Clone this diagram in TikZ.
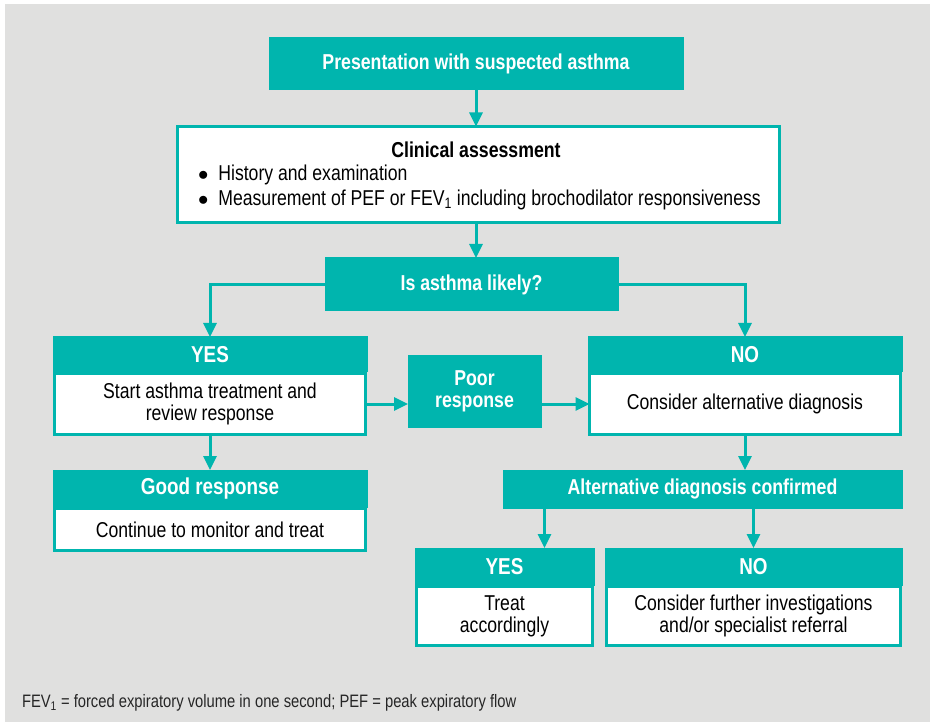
\documentclass[tikz,border=0pt]{standalone}
\usepackage{fontspec}
\setmainfont{Liberation Sans}[FakeStretch=0.82]
\usetikzlibrary{arrows.meta}
\definecolor{tealc}{HTML}{00B5AE}
\definecolor{bgc}{HTML}{E0E0DF}
\begin{document}
\begin{tikzpicture}[x=1pt,y=-1pt,
  every node/.style={inner sep=0pt, outer sep=0pt, align=center},
  headbox/.style={fill=tealc, draw=tealc, line width=0pt, text=white, font=\fontsize{21.6}{22}\selectfont\bfseries},
  bighead/.style={headbox, font=\fontsize{23}{24}\selectfont\bfseries},
  bodybox/.style={fill=white, draw=tealc, line width=3pt, text=black, font=\fontsize{21.5}{22}\selectfont},
  conn/.style={draw=tealc, line width=3pt, -{Triangle[width=13pt,length=14pt]}}
]
\useasboundingbox (0,0) rectangle (930,722);
\fill[bgc] (5,4) rectangle (930,722);

% title
\node[headbox, minimum width=414pt, minimum height=52pt] (title) at (476,64) {Presentation with suspected asthma};
% clinical assessment
\node[bodybox, minimum width=602pt, minimum height=96pt] (clin) at (478.5,174.5) {};
\node[font=\fontsize{21.6}{22}\selectfont\bfseries] (clint) at (476,150) {Clinical assessment};
\node[font=\fontsize{21.5}{22}\selectfont, anchor=west] (b1) at (198,175) {$\bullet$\hspace{10pt}History and examination};
\node[font=\fontsize{21.5}{22}\selectfont, anchor=west] (b2) at (198,200) {$\bullet$\hspace{10pt}Measurement of PEF or FEV\textsubscript{1} including brochodilator responsiveness};
% is asthma likely
\node[headbox, minimum width=293pt, minimum height=53pt] (likely) at (471.5,284.5) {Is asthma likely?};

% yes
\node[bighead, minimum width=314pt, minimum height=35pt] (yesh) at (210,354.5) {YES};
\node[bodybox, minimum width=311pt, minimum height=61pt] (yesb) at (210,404) {Start asthma treatment and\\review response};
% poor
\node[headbox, minimum width=133pt, minimum height=71pt] (poor) at (474.5,391.5) {Poor\\response};
% no
\node[bighead, minimum width=314pt, minimum height=35pt] (noh) at (745,354.5) {NO};
\node[bodybox, minimum width=311pt, minimum height=61pt] (nob) at (745,404) {Consider alternative diagnosis};
% good response
\node[bighead, minimum width=314pt, minimum height=37pt] (goodh) at (210,488.5) {Good response};
\node[bodybox, minimum width=311pt, minimum height=42pt] (goodb) at (210,529.5) {Continue to monitor and treat};
% alternative confirmed
\node[headbox, minimum width=399pt, minimum height=38pt] (alt) at (702.5,489) {Alternative diagnosis confirmed};
% yes2
\node[bighead, minimum width=179pt, minimum height=37pt] (yes2h) at (504.5,566.5) {YES};
\node[bodybox, minimum width=176pt, minimum height=59pt] (yes2b) at (504.5,616) {Treat\\accordingly};
% no2
\node[bighead, minimum width=297pt, minimum height=37pt] (no2h) at (753.5,566.5) {NO};
\node[bodybox, minimum width=294pt, minimum height=59pt] (no2b) at (753.5,616) {Consider further investigations\\and/or specialist referral};

% footnote
\node[anchor=west, font=\fontsize{18}{20}\selectfont, text=black!85] (foot) at (22,703) {FEV\textsubscript{1} = forced expiratory volume in one second; PEF = peak expiratory flow};

% connectors
\draw[conn] (title.south -| clint) -- (clin.north -| clint);
\draw[conn] (clin.south -| clint) -- (likely.north -| clint);
\draw[conn] (likely.west) -| (yesh.north);
\draw[conn] (likely.east) -| (noh.north);
\draw[conn] (yesb.east) -- (poor.west |- yesb.east);
\draw[conn] (poor.east |- nob.west) -- (nob.west);
\draw[conn] (yesb.south) -- (goodh.north);
\draw[conn] (nob.south) -- (alt.north -| nob.south);
\draw[conn] (alt.south -| yes2h.north) ++(40,0) coordinate (a1) (a1) -- (a1 |- yes2h.north);
\draw[conn] (alt.south -| no2h.north) -- (no2h.north);
\end{tikzpicture}
\end{document}
